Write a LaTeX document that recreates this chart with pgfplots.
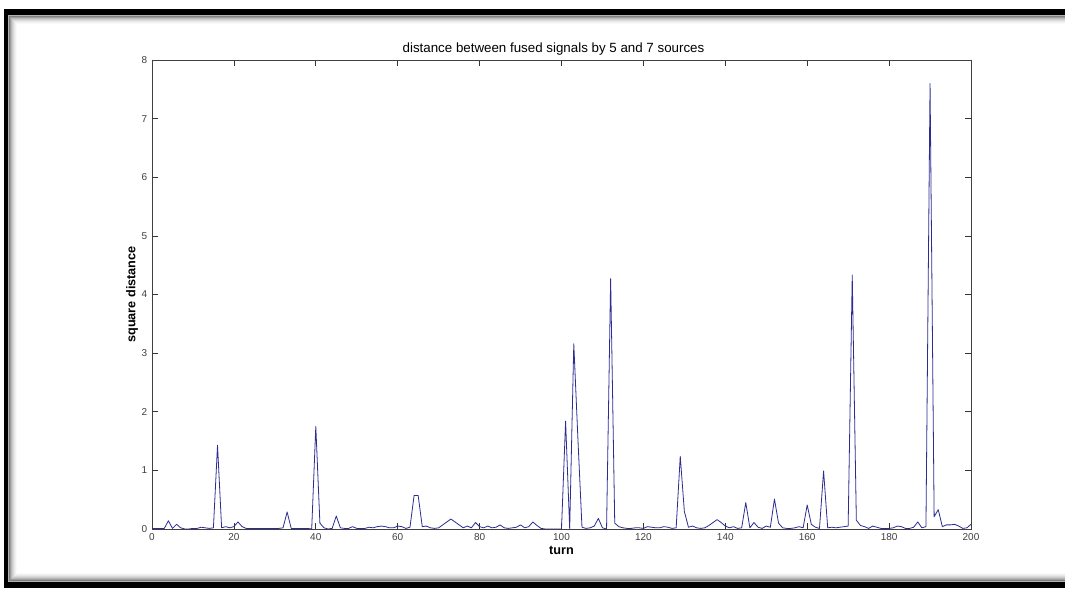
\documentclass[border=0pt]{standalone}
\usepackage{fontspec}
\setmainfont{Liberation Sans}
\usepackage{pgfplots}
\usepackage{pgfplotstable}
\pgfplotsset{compat=1.18}

\definecolor{trace}{RGB}{44,44,145}

% turn, square distance between the two fused signals
\pgfplotstableread{
t v
0 0.01
1 0.01
2 0.01
3 0.01
4 0.14
5 0.01
6 0.08
7 0.02
8 0.00
9 0.00
10 0.01
11 0.01
12 0.03
13 0.02
14 0.01
15 0.02
16 1.43
17 0.02
18 0.04
19 0.02
20 0.04
21 0.12
22 0.04
23 0.01
24 0.01
25 0.01
26 0.01
27 0.01
28 0.01
29 0.01
30 0.01
31 0.01
32 0.02
33 0.29
34 0.01
35 0.01
36 0.01
37 0.01
38 0.01
39 0.00
40 1.75
41 0.10
42 0.02
43 0.00
44 0.01
45 0.22
46 0.02
47 0.01
48 0.01
49 0.04
50 0.01
51 0.01
52 0.01
53 0.03
54 0.02
55 0.04
56 0.05
57 0.04
58 0.02
59 0.02
60 0.05
61 0.04
62 0.01
63 0.03
64 0.57
65 0.57
66 0.04
67 0.05
68 0.02
69 0.01
70 0.02
71 0.07
72 0.12
73 0.17
74 0.12
75 0.07
76 0.02
77 0.05
78 0.02
79 0.11
80 0.04
81 0.02
82 0.05
83 0.02
84 0.03
85 0.07
86 0.02
87 0.01
88 0.02
89 0.03
90 0.07
91 0.02
92 0.04
93 0.12
94 0.06
95 0.01
96 0.00
97 0.00
98 0.00
99 0.00
100 0.00
101 1.84
102 0.00
103 3.16
104 1.55
105 0.03
106 0.01
107 0.02
108 0.05
109 0.18
110 0.02
111 0.00
112 4.27
113 0.10
114 0.04
115 0.02
116 0.01
117 0.01
118 0.02
119 0.02
120 0.01
121 0.04
122 0.03
123 0.02
124 0.02
125 0.04
126 0.03
127 0.01
128 0.02
129 1.24
130 0.30
131 0.03
132 0.05
133 0.02
134 0.01
135 0.02
136 0.06
137 0.11
138 0.16
139 0.11
140 0.05
141 0.02
142 0.04
143 0.01
144 0.02
145 0.45
146 0.02
147 0.11
148 0.03
149 0.01
150 0.05
151 0.03
152 0.51
153 0.10
154 0.02
155 0.01
156 0.01
157 0.02
158 0.04
159 0.02
160 0.41
161 0.08
162 0.03
163 0.01
164 0.99
165 0.02
166 0.03
167 0.02
168 0.03
169 0.04
170 0.05
171 4.33
172 0.15
173 0.06
174 0.04
175 0.01
176 0.05
177 0.03
178 0.01
179 0.01
180 0.01
181 0.02
182 0.05
183 0.04
184 0.01
185 0.01
186 0.03
187 0.12
188 0.02
189 0.04
190 7.60
191 0.21
192 0.33
193 0.04
194 0.07
195 0.07
196 0.08
197 0.05
198 0.01
199 0.02
200 0.08
}\distdata

\begin{document}
\begin{tikzpicture}
% window frame with an inner shadow, in pixel units
\begin{scope}[x=0.75pt,y=0.75pt]
  \useasboundingbox (0,0) rectangle (1065,591);
  \fill[black] (4,3) rectangle (1085,582);
  \fill[white] (8,9) rectangle (1085,576);
  \draw[black!30, line width=0.75pt] (8.5,9.5) rectangle (1085,575.5);
  \foreach \i/\c in {1/50,2/38,3/28,4/20,5/14,6/9,7/5,8/2}
    \draw[black!\c, line width=0.75pt] (8.5+\i,9.5+\i) rectangle (1085,575.5-\i);
\end{scope}

\begin{axis}[
  at={(114pt,46.5pt)}, anchor=south west,
  scale only axis, width=614.25pt, height=351.75pt,
  xmin=0, xmax=200, ymin=0, ymax=8,
  xtick={0,20,...,200}, ytick={0,1,...,8},
  tick align=inside, major tick length=4.5pt,
  every tick/.style={black!80, line width=0.5pt},
  axis line style={black!75, line width=0.6pt},
  /pgf/number format/assume math mode=true,
  tick label style={font=\fontsize{7.5}{9}\selectfont, text=black!75},
  title={distance between fused signals by 5 and 7 sources},
  title style={font=\fontsize{10}{12}\selectfont, at={(axis description cs:0.5,1)}, anchor=south, yshift=-6pt, xshift=-6pt},
  xlabel={turn}, ylabel={square distance},
  xlabel style={font=\bfseries\fontsize{9.5}{11}\selectfont, at={(axis description cs:0.5,0)}, anchor=center, yshift=-16pt},
  ylabel style={font=\bfseries\fontsize{9.5}{11}\selectfont, at={(axis description cs:0,0.5)}, anchor=center, yshift=15pt},
]
\addplot[trace, line width=0.6pt, line join=round] table[x=t, y=v] {\distdata};
\end{axis}
\end{tikzpicture}
\end{document}
